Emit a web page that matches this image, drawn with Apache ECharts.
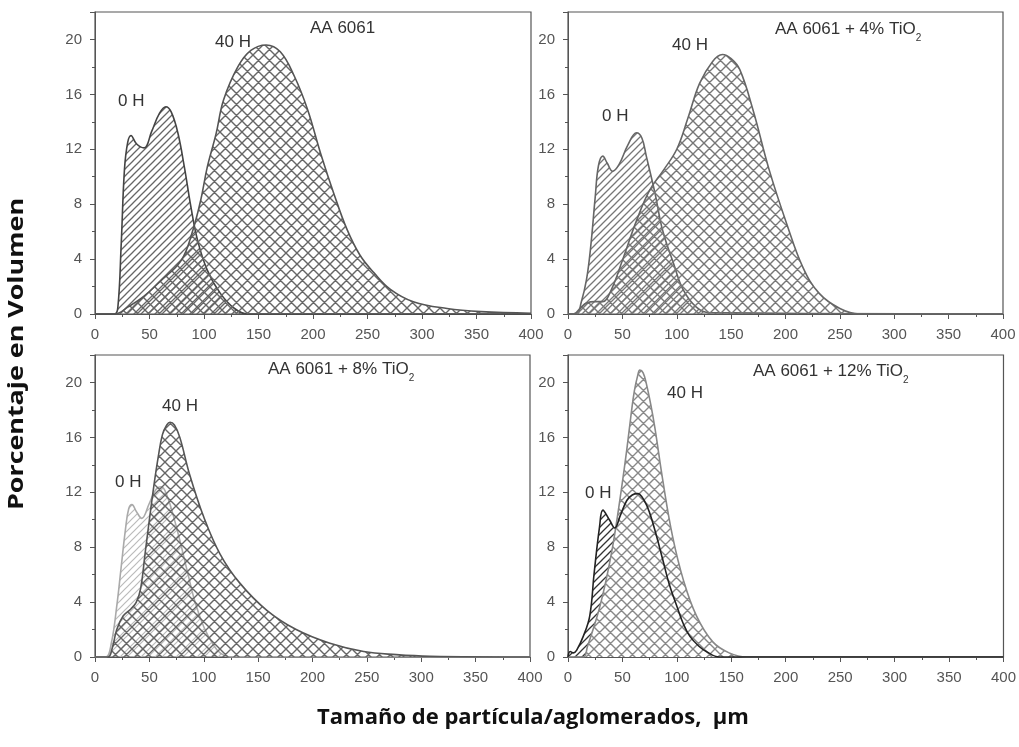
<!DOCTYPE html>
<html>
<head>
<meta charset="utf-8">
<script src="https://cdn.jsdelivr.net/npm/echarts@6/dist/echarts.min.js"></script>
</head>
<body style="margin:0">
<div id="main" style="width:1019px;height:747px"></div>
<script>
// x ticks (µm) and y ticks (%)
var xTicks = [0, 50, 100, 150, 200, 250, 300, 350, 400];
var yTicks = [0, 4, 8, 12, 16, 20];

// AA 6061
var x0h_a = [0, 18, 21, 24, 27, 30, 33, 38, 45, 52, 59, 65, 70, 76, 82, 88, 94, 103, 115, 128, 140, 400];
var y0h_a = [0, 0, 0.5, 5, 10.5, 12.5, 13, 12.4, 12.1, 13.3, 14.6, 15.1, 14.7, 13.2, 10.7, 7.8, 5.4, 3.2, 1.5, 0.4, 0, 0];
var x40h_a = [0, 18, 30, 45, 60, 79, 89, 97, 103, 111, 118, 131, 143, 157, 170, 183, 195, 207, 219, 231, 243, 256, 271, 292, 323, 354, 400];
var y40h_a = [0, 0, 0.5, 1.3, 2.4, 3.9, 5.9, 8.3, 10.7, 13.1, 15.6, 18, 19.2, 19.6, 19.1, 17.3, 14.9, 11.7, 8.8, 6.2, 4.3, 3.0, 1.8, 0.9, 0.4, 0.17, 0.05];

// AA 6061 + 4% TiO2
var x0h_b = [0, 8, 12, 17, 21, 25, 28, 32, 36, 41, 47, 55, 63, 68, 72, 80, 87, 97, 106, 118, 130, 400];
var y0h_b = [0, 0, 0.8, 2.5, 5, 8.5, 10.8, 11.5, 11.0, 10.4, 10.9, 12.3, 13.2, 12.8, 11.5, 8.8, 6.1, 3.7, 1.75, 0.5, 0.1, 0];
var x40h_b = [0, 5, 12, 17, 25, 32, 40, 50, 63, 75, 88, 100, 110, 121, 133, 142, 150, 158, 170, 185, 201, 216, 231, 250, 268, 400];
var y40h_b = [0, 0, 0.5, 0.8, 0.9, 0.9, 1.8, 3.9, 6.8, 9, 10.5, 12.0, 14.2, 16.8, 18.4, 18.9, 18.6, 17.8, 14.9, 10.5, 6.6, 3.4, 1.5, 0.4, 0, 0];

// AA 6061 + 8% TiO2
var x0h_c = [0, 10, 15, 20, 24, 28, 31, 34, 38, 43, 50, 56, 61, 66, 72, 78, 85, 92, 100, 108, 115, 125, 400];
var y0h_c = [0, 0, 1, 3.7, 6.5, 9.3, 10.8, 11.1, 10.6, 10.1, 11.2, 12.2, 12.4, 11.8, 10.3, 8.5, 6.2, 4.0, 2.2, 1.0, 0.3, 0, 0];
var x40h_c = [0, 12, 16, 20, 26, 33, 38, 42, 46, 50, 54, 58, 62, 66, 69, 73, 78, 87, 100, 115, 133, 158, 185, 216, 247, 277, 308, 400];
var y40h_c = [0, 0, 0.7, 2.0, 3.0, 3.5, 4.0, 5.0, 7.5, 10, 12.4, 14.5, 16.2, 16.9, 17.1, 16.9, 16.0, 13.3, 10.2, 7.5, 5.4, 3.4, 2.0, 1.0, 0.4, 0.17, 0.05, 0];

// AA 6061 + 12% TiO2
var x0h_d = [0, 2, 5, 8, 14, 20, 24, 29, 32, 38, 43, 48, 54, 59, 64, 70, 75, 81, 87, 93, 100, 106, 112, 120, 127, 139, 400];
var y0h_d = [0, 0.4, 0.3, 0.5, 1.5, 3.0, 6.1, 9.5, 10.7, 10.0, 9.4, 10.3, 11.4, 11.8, 11.9, 11.4, 10.5, 8.9, 7.1, 5.3, 3.7, 2.4, 1.5, 0.8, 0.4, 0, 0];
var x40h_d = [0, 14, 18, 23, 29, 35, 40, 44, 49, 54, 58, 61, 64, 66, 69, 72, 76, 80, 87, 96, 106, 118, 133, 148, 164, 400];
var y40h_d = [0, 0, 0.8, 2.0, 3.6, 5.6, 7.6, 9.5, 12.2, 15.1, 17.7, 19.4, 20.5, 20.9, 20.7, 19.9, 18.4, 16.6, 12.9, 8.8, 5.6, 3.0, 1.1, 0.3, 0, 0];

function pairs(xs, ys) {
    var out = [];
    for (var i = 0; i < xs.length; i++) out.push([xs[i], ys[i]]);
    return out;
}

// hatch fill made on a small canvas
function hatch(color, size, cross, lw, bg) {
    var c = document.createElement('canvas');
    c.width = size; c.height = size;
    var ctx = c.getContext('2d');
    if (bg) { ctx.fillStyle = bg; ctx.fillRect(0, 0, size, size); }
    ctx.strokeStyle = color;
    ctx.lineWidth = lw;
    ctx.beginPath();
    ctx.moveTo(-1, size + 1); ctx.lineTo(size + 1, -1);
    ctx.moveTo(-1, 1); ctx.lineTo(1, -1);
    ctx.moveTo(size - 1, size + 1); ctx.lineTo(size + 1, size - 1);
    if (cross) {
        ctx.moveTo(-1, -1); ctx.lineTo(size + 1, size + 1);
        ctx.moveTo(size - 1, -1); ctx.lineTo(size + 1, 1);
        ctx.moveTo(-1, size - 1); ctx.lineTo(1, size + 1);
    }
    ctx.stroke();
    return { image: c, repeat: 'repeat' };
}

var grids = [
    { left: 95, top: 12, width: 436, height: 302 },
    { left: 568, top: 12, width: 435, height: 302 },
    { left: 95, top: 355, width: 435, height: 302 },
    { left: 568, top: 355, width: 436, height: 302 }
];

var tickFont = { color: '#555', fontSize: 15, fontFamily: 'Liberation Sans' };

function xAx(i) {
    return {
        gridIndex: i, type: 'value', min: xTicks[0], max: xTicks[xTicks.length - 1], interval: xTicks[1] - xTicks[0],
        axisLine: { onZero: false, lineStyle: { color: '#555' } },
        axisTick: { length: 5, lineStyle: { color: '#555' } },
        minorTick: { show: true, splitNumber: 2, length: 3, lineStyle: { color: '#555' } },
        splitLine: { show: false },
        axisLabel: Object.assign({ margin: 13 }, tickFont)
    };
}
function yAx(i) {
    return {
        gridIndex: i, type: 'value', min: 0, max: 22, interval: yTicks[1] - yTicks[0],
        axisLine: { onZero: false, lineStyle: { color: '#555' } },
        axisTick: { length: 5, lineStyle: { color: '#555' } },
        minorTick: { show: true, splitNumber: 2, length: 3, lineStyle: { color: '#555' } },
        splitLine: { show: false },
        axisLabel: Object.assign({ margin: 13, showMaxLabel: false }, tickFont)
    };
}

function curve(i, xs, ys, lineColor, fill, z) {
    var s = {
        type: 'line', xAxisIndex: i, yAxisIndex: i, data: pairs(xs, ys),
        smooth: 0.4, symbol: 'none', z: z, silent: true,
        lineStyle: { color: lineColor, width: lineColor ? 1.6 : 0 }
    };
    if (fill) s.areaStyle = { color: fill, opacity: 1 };
    return s;
}

function label(x, y, text) {
    return {
        type: 'text', left: x, top: y,
        style: { text: text, font: '17px "Liberation Sans"', fill: '#333' }
    };
}
function titleTxt(x, y, text) {
    return {
        type: 'text', left: x, top: y,
        style: {
            text: text, font: '17px "Liberation Sans"', fill: '#333',
            rich: { s: { fontSize: 10, fontFamily: 'Liberation Sans', fill: '#333', verticalAlign: 'bottom', lineHeight: 27 } }
        }
    };
}

var myChart = echarts.init(document.getElementById('main'));
var option = {
    animation: false,
    backgroundColor: '#fff',
    grid: grids.map(function (g) {
        return Object.assign({ show: true, borderColor: '#555', borderWidth: 1.2 }, g);
    }),
    xAxis: [xAx(0), xAx(1), xAx(2), xAx(3)],
    yAxis: [yAx(0), yAx(1), yAx(2), yAx(3)],
    series: [
        curve(0, x0h_a, y0h_a, '#444', hatch('#666', 7, false, 1.3), 2),
        curve(0, x40h_a, y40h_a, '#555', hatch('#666', 11, true, 1.4), 3),
        curve(1, x0h_b, y0h_b, '#666', hatch('#777', 7, false, 1.3), 2),
        curve(1, x40h_b, y40h_b, '#666', hatch('#777', 11, true, 1.4), 3),
        curve(2, x0h_c, y0h_c, '#aaa', hatch('#bbb', 7, false, 1.2), 2),
        curve(2, x40h_c, y40h_c, '#555', hatch('#666', 11, true, 1.4), 3),
        // 12%: the 40 H fill hides the 0 H hatch, the 0 H line stays on top
        curve(3, x0h_d, y0h_d, null, hatch('#333', 7, false, 1.3), 1),
        curve(3, x40h_d, y40h_d, '#888', hatch('#888', 11, true, 1.4, '#fff'), 2),
        curve(3, x0h_d, y0h_d, '#222', null, 3)
    ],
    graphic: [
        titleTxt(310, 20, 'AA 6061'),
        titleTxt(775, 21, 'AA 6061 + 4% TiO{s|2}'),
        titleTxt(268, 361, 'AA 6061 + 8% TiO{s|2}'),
        titleTxt(753, 363, 'AA 6061 + 12% TiO{s|2}'),
        label(215, 34, '40 H'), label(118, 93, '0 H'),
        label(672, 37, '40 H'), label(602, 108, '0 H'),
        label(162, 398, '40 H'), label(115, 474, '0 H'),
        label(667, 385, '40 H'), label(585, 485, '0 H'),
        {
            type: 'text', x: 533, y: 718,
            style: { text: 'Tamaño de partícula/aglomerados,  µm', font: 'bold 22px "Open Sans"', fill: '#111', align: 'center', verticalAlign: 'middle' }
        },
        {
            type: 'text', x: 17, y: 354, rotation: Math.PI / 2, scaleX: 1.22,
            style: { text: 'Porcentaje en Volumen', font: 'bold 22px "Open Sans"', fill: '#111', align: 'center', verticalAlign: 'middle' }
        }
    ]
};
myChart.setOption(option);
</script>
</body>
</html>
